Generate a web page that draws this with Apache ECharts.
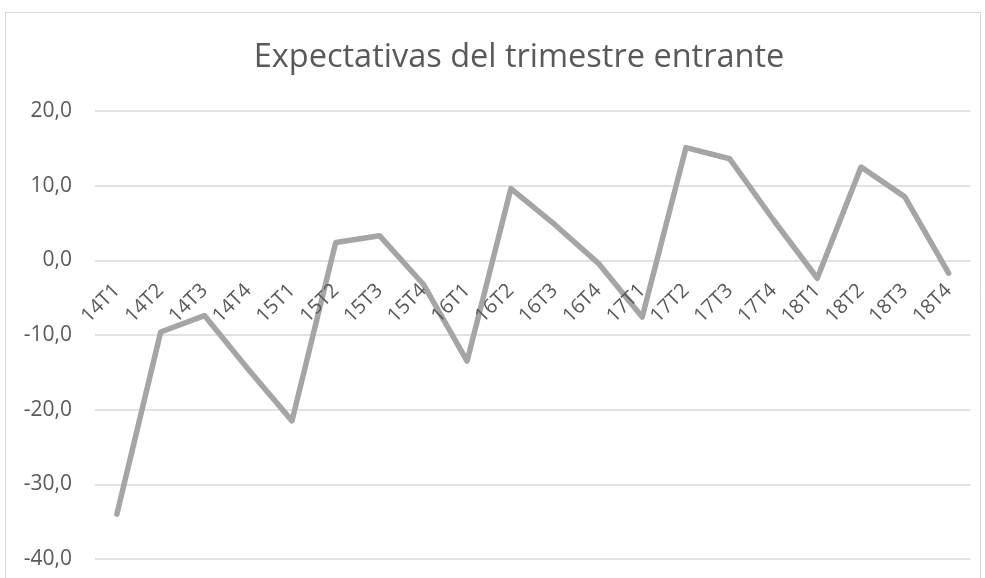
<!DOCTYPE html>
<html>
<head>
<meta charset="utf-8">
<script src="https://cdn.jsdelivr.net/npm/echarts@6/dist/echarts.min.js"></script>
<style>
html,body{margin:0;padding:0;background:#fff;}
#chart{width:985px;height:578px;}
</style>
</head>
<body>
<div id="chart"></div>
<script>
const categories = ["14T1","14T2","14T3","14T4","15T1","15T2","15T3","15T4","16T1","16T2","16T3","16T4","17T1","17T2","17T3","17T4","18T1","18T2","18T3","18T4"];
const values = [-34.0,-9.6,-7.4,-14.6,-21.5,2.4,3.3,-3.2,-13.5,9.6,4.8,-0.4,-7.6,15.1,13.6,5.4,-2.4,12.5,8.5,-1.7];
const yMin = -40, yMax = 20, yStep = 10;
const titleText = "Expectativas del trimestre entrante";

const gridTop = 111, gridBottom = 19, chartH = 578;
const zeroY = gridTop + (yMax - 0) / (yMax - yMin) * (chartH - gridTop - gridBottom);
const axisOffset = -((chartH - gridBottom) - zeroY);

const chart = echarts.init(document.getElementById('chart'), null, {renderer:'canvas'});
chart.setOption({
  backgroundColor:'#ffffff',
  animation:false,
  title:{
    text:titleText,
    left:514, top:36, textAlign:'center',
    textStyle:{fontFamily:'Open Sans', fontSize:32.5, fontWeight:'normal', color:'#595959'}
  },
  graphic:[{
    type:'rect', shape:{x:5.5,y:12.5,width:975,height:620},
    style:{fill:'none', stroke:'#d9d9d9', lineWidth:1}, silent:true, z:-1
  }],
  grid:{left:95, right:14.5, top:gridTop, bottom:gridBottom, containLabel:false, outerBoundsMode:'none'},
  xAxis:{
    type:'category', data:categories, boundaryGap:true, position:'bottom', offset:axisOffset, z:10,
    axisLine:{show:false, onZero:false}, axisTick:{show:false},
    axisLabel:{rotate:45, interval:0, margin:27, fontFamily:'Open Sans', fontSize:20, color:'#595959'},
    splitLine:{show:false}
  },
  yAxis:{
    type:'value', min:yMin, max:yMax, interval:yStep,
    axisLine:{show:false}, axisTick:{show:false},
    axisLabel:{margin:23, fontFamily:'Open Sans', fontSize:21, color:'#595959',
      formatter:v=>v.toFixed(1).replace('.',',')},
    splitLine:{lineStyle:{color:'#d9d9d9', width:1.5}}
  },
  series:[{
    type:'line', data:values, symbol:'none', z:2,
    lineStyle:{color:'#a5a5a5', width:5.5, cap:'round', join:'round'}
  }]
});
</script>
</body>
</html>
